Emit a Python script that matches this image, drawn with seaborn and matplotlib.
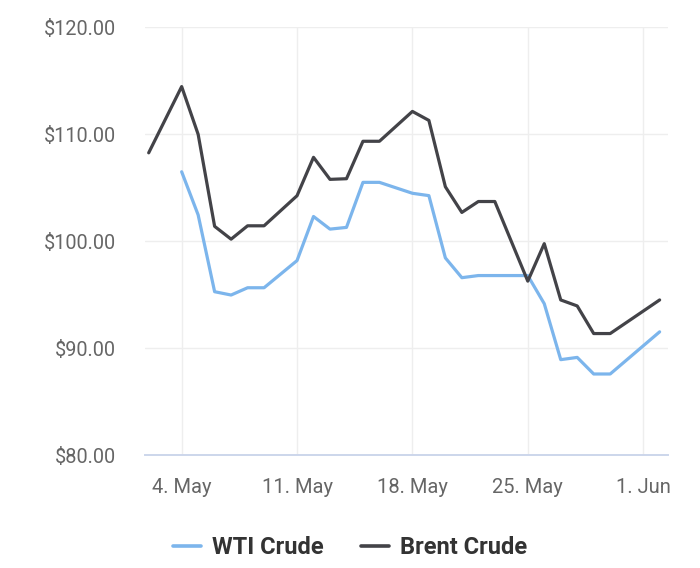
import pandas as pd
import numpy as np
import matplotlib.pyplot as plt
from matplotlib.ticker import StrMethodFormatter
import seaborn as sns

# %%
# daily closing prices
dates = ['2022-05-02', '2022-05-04', '2022-05-05', '2022-05-06', '2022-05-07',
         '2022-05-08', '2022-05-09', '2022-05-11', '2022-05-12', '2022-05-13',
         '2022-05-14', '2022-05-15', '2022-05-16', '2022-05-18', '2022-05-19',
         '2022-05-20', '2022-05-21', '2022-05-22', '2022-05-23', '2022-05-25',
         '2022-05-26', '2022-05-27', '2022-05-28', '2022-05-29', '2022-05-30',
         '2022-06-02']
wti = [np.nan, 106.5, 102.47, 95.29, 94.98, 95.66, 95.66, 98.2, 102.32, 101.14,
       101.3, 105.51, 105.51, 104.49, 104.27, 98.45, 96.6, 96.8, 96.8, 96.8,
       94.17, 88.94, 89.15, 87.6, 87.6, 91.54]
brent = [108.27, 114.46, 110.0, 101.4, 100.2, 101.45, 101.45, 104.26, 107.85, 105.79,
         105.85, 109.35, 109.35, 112.14, 111.3, 105.1, 102.7, 103.72, 103.72, 96.28,
         99.78, 94.52, 93.96, 91.38, 91.38, 94.52]

x_tick_dates = ['2022-05-04', '2022-05-11', '2022-05-18', '2022-05-25', '2022-06-01']
x_tick_labels = ['4. May', '11. May', '18. May', '25. May', '1. Jun']
y_ticks = [80, 90, 100, 110, 120]

# %%
df = pd.DataFrame({'Date': pd.to_datetime(dates), 'WTI Crude': wti, 'Brent Crude': brent})
df_long = df.melt(id_vars='Date', var_name='Crude', value_name='Price').dropna()

# %%
sns.set_style('white')
plt.rcParams['font.family'] = ['Roboto', 'DejaVu Sans']

fig = plt.figure(figsize=(7, 5.68), dpi=100)
ax = fig.add_axes([0.2071, 0.1984, 0.747, 0.7535])

palette = {'WTI Crude': '#7cb5ec', 'Brent Crude': '#434348'}
sns.lineplot(data=df_long, x='Date', y='Price', hue='Crude', palette=palette,
             linewidth=2.3, solid_joinstyle='round', ax=ax, legend=False)

# axes limits / ticks
start = pd.Timestamp('2022-05-04') - pd.Timedelta(days=2.226)
end = pd.Timestamp('2022-05-04') + pd.Timedelta(days=29.5)
ax.set_xlim(start, end)
ax.set_ylim(80, 120)
ax.set_yticks(y_ticks)
ax.yaxis.set_major_formatter(StrMethodFormatter('${x:.2f}'))
ax.set_xticks(pd.to_datetime(x_tick_dates))
ax.set_xticklabels(x_tick_labels)

ax.set_xlabel('')
ax.set_ylabel('')

ax.grid(True, color='#eeeeee', linewidth=1.0)
ax.set_axisbelow(True)
for s in ['top', 'right', 'left']:
    ax.spines[s].set_visible(False)
ax.spines['bottom'].set_color('#ccd6eb')
ax.spines['bottom'].set_linewidth(1.4)

ax.tick_params(axis='y', length=0, pad=21, labelsize=14.3, labelcolor='#666666')
ax.tick_params(axis='x', length=10, width=1.0, color='#b8bec8', pad=6.5,
               labelsize=14.5, labelcolor='#666666')

# legend at bottom
handles = [plt.Line2D([], [], color=palette[k], linewidth=2.6) for k in ['WTI Crude', 'Brent Crude']]
leg = fig.legend(handles, ['WTI Crude', 'Brent Crude'], loc='center',
                 bbox_to_anchor=(0.5, 0.036), ncol=2, frameon=False,
                 handlelength=1.2, handletextpad=0.45, columnspacing=1.6,
                 prop={'weight': 'bold', 'size': 17})
for t in leg.get_texts():
    t.set_color('#333333')

plt.savefig('out.png', dpi=100)
